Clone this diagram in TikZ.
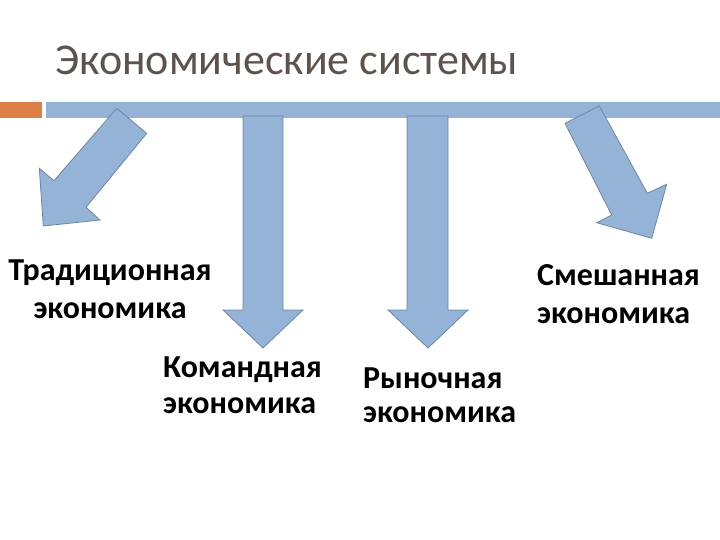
\documentclass[tikz,border=0pt]{standalone}
\usepackage{fontspec}
\setmainfont{Carlito}
\definecolor{titlegray}{RGB}{94,82,76}
\definecolor{barorange}{RGB}{221,128,71}
\definecolor{arrowfill}{RGB}{149,179,215}
\definecolor{arrowline}{RGB}{110,132,160}
\tikzset{
	blockarrow/.style={draw=arrowline, line width=0.8pt, fill=arrowfill, line join=miter},
	label/.style={font=\bfseries\fontsize{32}{38}\selectfont, inner sep=0pt}
}

\begin{document}
\begin{tikzpicture}[x=1pt, y=-1pt]
	\useasboundingbox (0,0) rectangle (720,540);
	% title
	\node[anchor=base west, inner sep=0pt, text=titlegray, font=\fontsize{44}{50}\selectfont] (title) at (55,75) {Экономические системы};
	% bars under the title
	\fill[barorange] (0,102) rectangle (42,118);
	\fill[arrowfill] (46,102) rectangle (720,118);
	% arrow to the left
	\draw[blockarrow] (116.7,108.3) -- (146.7,133.3) -- (86,207.3) -- (100,220) -- (43.3,226) -- (39.3,168.3) -- (54,180.7) -- cycle;
	% two arrows straight down
	\draw[blockarrow] (243,116) -- (283,116) -- (283,310) -- (303,310) -- (263,348) -- (223,310) -- (243,310) -- cycle;
	\draw[blockarrow] (407,116) -- (448,116) -- (448,310) -- (468,310) -- (428,348) -- (388,310) -- (407,310) -- cycle;
	% arrow to the right
	\draw[blockarrow] (565,123.3) -- (599.3,106) -- (647.3,193.3) -- (666.7,184.3) -- (651.7,238.3) -- (596.7,222.7) -- (611.7,215) -- cycle;
	% labels (base = baseline of the last line)
	\node[label, align=center, anchor=base] (trad) at (110,318) {Традиционная\\экономика};
	\node[label, align=left, anchor=base west, font=\bfseries\fontsize{32}{36}\selectfont] (komand) at (163,413) {Командная\\экономика};
	\node[label, align=left, anchor=base west, font=\bfseries\fontsize{32}{34}\selectfont] (rynok) at (363,422) {Рыночная\\экономика};
	\node[label, align=left, anchor=base west] (smesh) at (537,323) {Смешанная\\экономика};
\end{tikzpicture}
\end{document}
